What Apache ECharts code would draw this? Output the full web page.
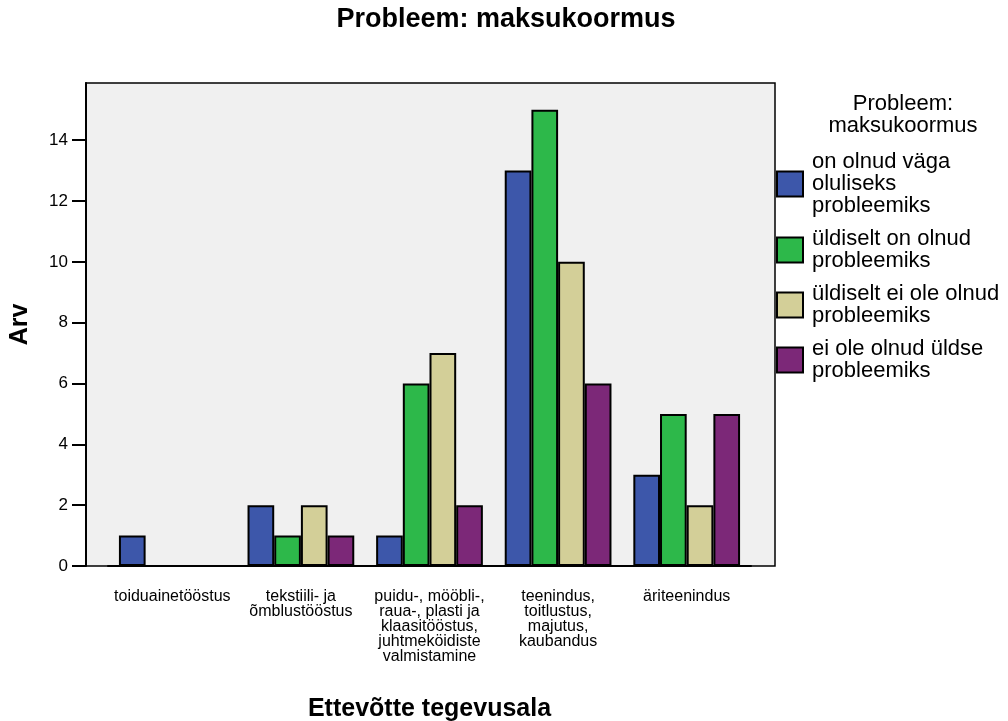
<!DOCTYPE html>
<html><head><meta charset="utf-8">
<script src="https://cdn.jsdelivr.net/npm/echarts@6/dist/echarts.min.js"></script>
<style>html,body{margin:0;padding:0;background:#fff}#c{width:1008px;height:721px}</style>
</head><body><div id="c"></div>
<script>
const categories = ['toiduainetööstus', 'tekstiili- ja\nõmblustööstus', 'puidu-, mööbli-,\nraua-, plasti ja\nklaasitööstus,\njuhtmeköidiste\nvalmistamine', 'teenindus,\ntoitlustus,\nmajutus,\nkaubandus', 'äriteenindus'];
const seriesNames = ['on olnud väga\noluliseks\nprobleemiks', 'üldiselt on olnud\nprobleemiks', 'üldiselt ei ole olnud\nprobleemiks', 'ei ole olnud üldse\nprobleemiks'];
const veryImportant = [1, 2, 1, 13, 3];
const generallyYes = [0, 1, 6, 15, 5];
const generallyNo = [0, 2, 7, 10, 2];
const notAtAll = [0, 1, 2, 6, 5];
const yTicks = [0, 2, 4, 6, 8, 10, 12, 14];
const colors = ['#3D57AA', '#2DB84A', '#D3CF98', '#7C2878'];

const values = [veryImportant, generallyYes, generallyNo, notAtAll];
const font = 'Liberation Sans, Arial, sans-serif';
const chart = echarts.init(document.getElementById('c'), null, {renderer: 'canvas'});
chart.setOption({
  animation: false,
  backgroundColor: '#ffffff',
  color: colors,
  title: [
    {text: 'Probleem: maksukoormus', left: 501, top: 1, textAlign: 'center',
     textStyle: {fontFamily: font, fontSize: 27, fontWeight: 'bold', color: '#000'}},
    {text: 'Probleem:\nmaksukoormus', left: 898, top: 88, textAlign: 'center',
     textStyle: {fontFamily: font, fontSize: 22, fontWeight: 'normal', color: '#000', lineHeight: 22}}
  ],
  legend: {
    orient: 'vertical', left: 771, top: 146,
    itemWidth: 26, itemHeight: 25, itemGap: 11,
    icon: 'rect',
    itemStyle: {borderColor: '#000', borderWidth: 2},
    textStyle: {fontFamily: font, fontSize: 22, color: '#000', lineHeight: 22, padding: [0, 0, 0, 4]},
    data: seriesNames
  },
  grid: [
    {left: 86, right: 233, top: 83, bottom: 155, show: true, backgroundColor: '#F0F0F0', borderColor: '#000', borderWidth: 1.5, z: 0, outerBoundsMode: 'none'},
    {left: 108, right: 257, top: 83, bottom: 155, outerBoundsMode: 'none'}
  ],
  xAxis: [
    {gridIndex: 0, type: 'value', show: false},
    {gridIndex: 1, type: 'category', data: categories,
     name: 'Ettevõtte tegevusala', nameLocation: 'middle', nameGap: 131,
     nameTextStyle: {fontFamily: font, fontSize: 25, fontWeight: 'bold', color: '#000'},
     axisLine: {lineStyle: {color: '#000', width: 2}},
     axisTick: {alignWithLabel: true, length: 11, lineStyle: {color: '#000', width: 2}},
     axisLabel: {fontFamily: font, fontSize: 16, color: '#000', margin: 23, lineHeight: 15, interval: 0}
    }
  ],
  yAxis: [
    {gridIndex: 0, type: 'value', show: false},
    {gridIndex: 1, type: 'value', min: 0, max: 15.88, interval: 2, offset: 22,
     name: 'Arv', nameLocation: 'middle', nameGap: 53, nameRotate: 90,
     nameTextStyle: {fontFamily: font, fontSize: 25, fontWeight: 'bold', color: '#000'},
     axisLine: {show: true, lineStyle: {color: '#000', width: 2}},
     axisTick: {show: true, length: 14, lineStyle: {color: '#000', width: 2}},
     axisLabel: {fontFamily: font, fontSize: 17, color: '#000', margin: 18, showMaxLabel: false,
       formatter: v => yTicks.includes(v) ? String(v) : ''},
     splitLine: {show: false}
    }
  ],
  series: seriesNames.map((n, i) => ({
    name: n, type: 'bar', xAxisIndex: 1, yAxisIndex: 1,
    data: values[i], barGap: '0%', barCategoryGap: '17%',
    itemStyle: {color: colors[i], borderColor: '#000', borderWidth: 2}
  }))
});
</script></body></html>
